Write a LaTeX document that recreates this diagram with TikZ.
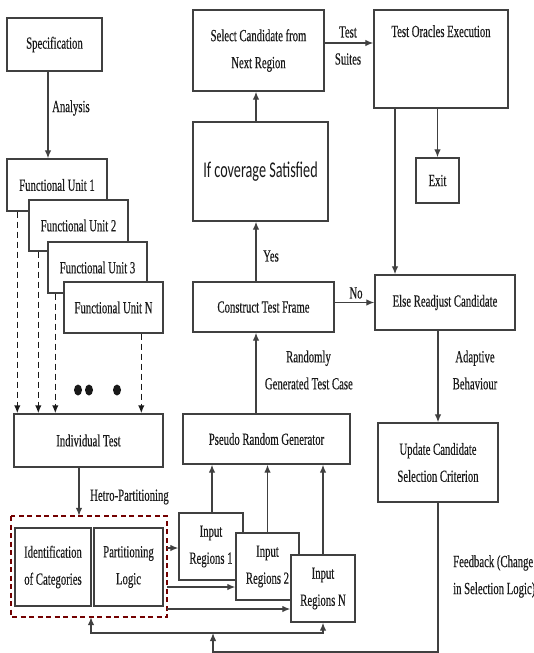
\documentclass[tikz,border=0pt]{standalone}
\usepackage{fontspec}
\setmainfont{Liberation Serif}[FakeStretch=0.63,FakeBold=0.3]
\newfontfamily\calibfont{Carlito}[FakeStretch=0.63]
\usetikzlibrary{arrows.meta,shapes.geometric}
\newcommand\mysz{\fontsize{17}{27}\selectfont}
\begin{document}
\begin{tikzpicture}[x=1pt,y=-1pt,
  box/.style={draw=black!75, line width=1.4pt, fill=white, inner sep=2pt, align=center, font=\mysz, text=black!90},
  lbl/.style={inner sep=0pt, align=center, font=\mysz, text=black!90},
  arr/.style={draw=black!75, line width=1.3pt, -{Latex[length=8pt,width=6.5pt]}},
  dasharr/.style={draw=black!90, line width=1.4pt, dash pattern=on 6pt off 4pt, -{Latex[length=8pt,width=6.5pt]}},
  partbox/.style={draw=red!45!black, line width=1.7pt, dash pattern=on 5pt off 3.5pt},
  dotn/.style={fill=black!90, ellipse, minimum width=8pt, minimum height=11pt, inner sep=0pt}
]
\useasboundingbox (0,0) rectangle (534,653);
\fill[white] (0,0) rectangle (534,653);

% left column
\node[box, minimum width=95, minimum height=53] (spec) at (54.5,44.5) {Specification};
\node[box, minimum width=100, minimum height=52] (fu1) at (57,185) {Functional Unit 1};
\node[box, minimum width=99, minimum height=51] (fu2) at (78.5,225.5) {Functional Unit 2};
\node[box, minimum width=99, minimum height=51] (fu3) at (97.5,267.5) {Functional Unit 3};
\node[box, minimum width=99, minimum height=51] (fuN) at (113.5,307.5) {Functional Unit N};
\node[box, minimum width=149, minimum height=53] (indiv) at (88.5,440.5) {Individual Test};

\node[dotn] (d1) at (78,390) {};
\node[dotn] (d2) at (89,390) {};
\node[dotn] (d3) at (117,390) {};

\draw[partbox] (11,516) rectangle (167,617);
\node[minimum width=156, minimum height=101, inner sep=0pt] (dbox) at (89,566.5) {};
\node[box, minimum width=76, minimum height=78] (idc) at (53,567) {Identification\\of Categories};
\node[box, minimum width=69, minimum height=78] (pl) at (128.5,567) {Partitioning\\Logic};

\node[box, minimum width=64, minimum height=67] (ir1) at (211,546.5) {Input\\Regions 1};
\node[box, minimum width=63, minimum height=67] (ir2) at (267.5,566.5) {Input\\Regions 2};
\node[box, minimum width=64, minimum height=67] (irN) at (323,588.5) {Input\\Regions N};

% middle column
\node[box, minimum width=167, minimum height=50] (prg) at (266.5,439) {Pseudo Random Generator};
\node[box, minimum width=141, minimum height=50] (ctf) at (263.5,307) {Construct Test Frame};
\node[box, minimum width=135, minimum height=99, font=\calibfont\fontsize{22.5}{27}\selectfont] (cov) at (260.5,171.5) {If coverage Satisfied};
\node[box, minimum width=131, minimum height=81] (scnr) at (258.5,50.5) {Select Candidate from\\Next Region};

% right column
\node[box, minimum width=134, minimum height=98, inner ysep=12pt, text height=15pt, text depth=59pt] (toe) at (441,59) {Test Oracles Execution};
\node[box, minimum width=43, minimum height=45] (exit) at (437.5,180.5) {Exit};
\node[box, minimum width=140, minimum height=55] (erc) at (445,302.5) {Else Readjust Candidate};
\node[box, minimum width=120, minimum height=79] (ucsc) at (438,462.5) {Update Candidate\\Selection Criterion};

% connectors left
\draw[arr] ([xshift=-6.5pt]spec.south) -- ([xshift=-6.5pt]spec.south |- fu1.north);
\node[lbl, anchor=west] (lanalysis) at (52,108) {Analysis};

\draw[dasharr] ([xshift=11pt]fu1.south west) -- ([xshift=11pt]fu1.south west |- indiv.north);
\draw[dasharr] ([xshift=10pt]fu2.south west) -- ([xshift=10pt]fu2.south west |- indiv.north);
\draw[dasharr] ([xshift=8pt]fu3.south west) -- ([xshift=8pt]fu3.south west |- indiv.north);
\draw[dasharr] ([xshift=78pt]fuN.south west) -- ([xshift=78pt]fuN.south west |- indiv.north);

\draw[arr] ([xshift=-9.5pt]indiv.south) -- ([xshift=-9.5pt]indiv.south |- dbox.north);
\node[lbl, anchor=west] (lhetro) at (90,497) {Hetro-Partitioning};

\coordinate (p1) at ([yshift=-1.5pt]ir1.west);
\coordinate (p2) at ([yshift=-20.5pt]ir2.west);
\coordinate (p3) at ([yshift=-20.5pt]irN.west);
\draw[arr] (dbox.east |- p1) -- (p1);
\draw[arr] (dbox.east |- p2) -- (p2);
\draw[arr] (dbox.east |- p3) -- (p3);

\draw[arr] ([xshift=1pt]ir1.north) -- ([xshift=1pt]ir1.north |- prg.south);
\draw[arr] (ir2.north) -- (ir2.north |- prg.south);
\draw[arr] (irN.north) -- (irN.north |- prg.south);

% connectors middle
\draw[arr] ([xshift=-10.5pt]prg.north) -- ([xshift=-10.5pt]prg.north |- ctf.south);
\node[lbl, align=right, anchor=east] (lrand) at (353,370) {Randomly\hspace*{22pt}\\Generated Test Case};
\draw[arr] ([xshift=-7.5pt]ctf.north) -- ([xshift=-7.5pt]ctf.north |- cov.south);
\node[lbl, anchor=west] (lyes) at (263,256) {Yes};
\draw[arr] ([xshift=-4.5pt]cov.north) -- ([xshift=-4.5pt]cov.north |- scnr.south);

\coordinate (ts) at ([yshift=7.5pt]scnr.east);
\draw[arr] (ts) -- (ts -| toe.west);
\node[lbl] (ltest) at (348,32) {Test};
\node[lbl] (lsuites) at (348,59) {Suites};

\draw[arr] (ctf.east |- erc.west) -- (erc.west);
\node[lbl] (lno) at (356,293) {No};

% connectors right
\draw[arr] (exit.north |- toe.south) -- (exit.north);
\draw[arr] ([xshift=-46pt]toe.south) -- ([xshift=-46pt]toe.south |- erc.north);
\draw[arr] (ucsc.north |- erc.south) -- (ucsc.north);
\node[lbl] (ladapt) at (475,370) {Adaptive\\Behaviour};

% feedback
\coordinate (fbB) at (0,652);
\coordinate (fbJ) at (213,633);
\coordinate (fbL) at (91,633);
\coordinate (fbR) at (irN.south |- fbJ);
\draw[arr] (ucsc.south) -- (ucsc.south |- fbB) -- (fbJ |- fbB) -- (fbJ);
\draw[arr, {Latex[length=8pt,width=6.5pt]}-{Latex[length=8pt,width=6.5pt]}] (fbL |- dbox.south) -- (fbL) -- (fbR) -- (irN.south);
\node[lbl, anchor=west, align=left] (lfeed) at (453,576.5) {Feedback (Change\\in Selection Logic)};
\end{tikzpicture}
\end{document}
